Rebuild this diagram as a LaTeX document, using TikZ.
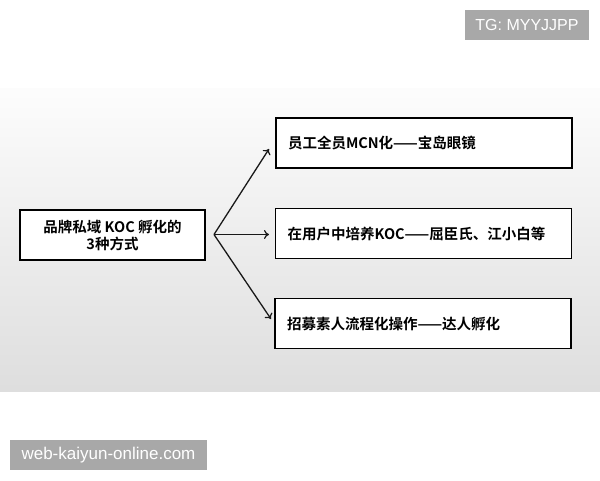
\documentclass[tikz,border=0pt]{standalone}
\usepackage{fontspec}
\newfontfamily\cjk{Noto Sans CJK SC}[BoldFont={* Bold}]
\newfontfamily\wmfont{Liberation Sans}
\usetikzlibrary{arrows.meta}
\begin{document}
\begin{tikzpicture}[x=1pt,y=-1pt,
  box/.style={draw=black,line width=1.3pt,fill=white,minimum height=50pt,inner sep=0pt,
    font=\cjk\bfseries\fontsize{14.5}{17}\selectfont},
  leftbox/.style={box,minimum width=185pt,align=center},
  rightbox/.style={box,minimum width=296pt,text width=272pt,align=left},
  conn/.style={line width=1.3pt,black!90,-{To[length=5pt,width=9pt,line width=1.2pt]}},
  wm/.style={fill=black!34,text=white,inner sep=0pt,font=\wmfont\fontsize{16}{18}\selectfont}]
\useasboundingbox (0,0) rectangle (600,480);
\fill[white] (0,0) rectangle (600,480);
\shade[top color=black!1,bottom color=black!13] (0,88) rectangle (600,391);
\node[leftbox] (src) at (112.5,235) {品牌私域 KOC 孵化的\\3种方式};
\node[rightbox] (r1) at (424,143) {员工全员MCN化——宝岛眼镜};
\node[rightbox] (r2) at (423.5,233.5) {在用户中培养KOC——屈臣氏、江小白等};
\node[rightbox] (r3) at (423,323.5) {招募素人流程化操作——达人孵化};
\coordinate (fork) at (214,234.5);
\coordinate (t1) at (269,149);
\coordinate (t2) at (269,234.5);
\coordinate (t3) at (271,319);
\draw[conn] (fork) -- (t1);
\draw[conn] (fork) -- (t2);
\draw[conn] (fork) -- (t3);
\node[wm,minimum width=124pt,minimum height=30pt] (wm1) at (527,25) {TG: MYYJJPP};
\node[wm,minimum width=197pt,minimum height=30pt,font=\wmfont\fontsize{17}{18}\selectfont] (wm2) at (108.5,455) {web-kaiyun-online.com};
\end{tikzpicture}
\end{document}
